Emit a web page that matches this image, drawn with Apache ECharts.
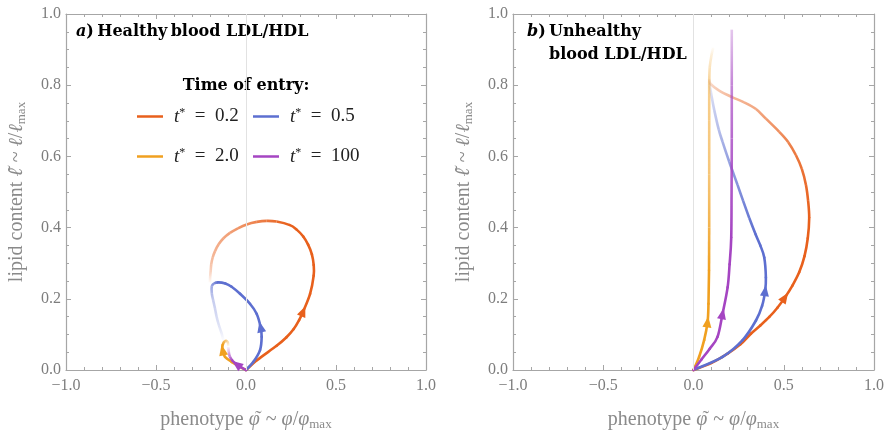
<!DOCTYPE html>
<html><head><meta charset="utf-8">
<script src="https://cdn.jsdelivr.net/npm/echarts@6/dist/echarts.min.js"></script>
<style>html,body{margin:0;padding:0;background:#fff}#c{width:889px;height:436px}</style>
</head><body><div id="c"></div>
<script>
// ---- tick labels ----
const xTickValues = [-1, -0.5, 0, 0.5, 1];
const xTickLabels = ['\u22121.0', '\u22120.5', '0.0', '0.5', '1.0'];
const yTickValues = [0, 0.2, 0.4, 0.6, 0.8, 1];
const yTickLabels = ['0.0', '0.2', '0.4', '0.6', '0.8', '1.0'];

// ---- legend ----
const seriesKeys = ['t02', 't05', 't20', 't100'];
const legendValues = ['0.2', '0.5', '2.0', '100'];

// ---- panel a) healthy: [phenotype, lipid] ----
const healthyT02 = [[0,0],[0.062,0.028],[0.17,0.068],[0.225,0.092],[0.265,0.115],[0.295,0.14],[0.318,0.165],[0.356,0.214],[0.376,0.265],[0.376,0.295],[0.366,0.325],[0.345,0.352],[0.318,0.375],[0.28,0.395],[0.244,0.407],[0.17,0.417],[0.115,0.419],[0.06,0.416],[0.004,0.409],[-0.045,0.398],[-0.089,0.385],[-0.125,0.37],[-0.152,0.353],[-0.172,0.334],[-0.185,0.316],[-0.193,0.297],[-0.196,0.279],[-0.199,0.262],[-0.2,0.246]];
const healthyT05 = [[0,0],[0.041,0.023],[0.078,0.056],[0.087,0.093],[0.081,0.121],[0.059,0.158],[0.022,0.186],[-0.033,0.214],[-0.08,0.234],[-0.115,0.243],[-0.154,0.246],[-0.178,0.243],[-0.19,0.235],[-0.19,0.215],[-0.182,0.195],[-0.172,0.172],[-0.163,0.149],[-0.15,0.125],[-0.135,0.102],[-0.126,0.084]];
const healthyT20 = [[0,0],[-0.033,0.009],[-0.08,0.023],[-0.117,0.037],[-0.13,0.056],[-0.13,0.07],[-0.117,0.081],[-0.102,0.079],[-0.098,0.067]];
const healthyT100 = [[0,0],[-0.025,0.007],[-0.052,0.016],[-0.075,0.026],[-0.09,0.038],[-0.096,0.052],[-0.098,0.065]];

// ---- panel b) unhealthy ----
const unhealthyT02 = [[0,0],[0.1,0.02],[0.189,0.046],[0.26,0.072],[0.318,0.102],[0.37,0.125],[0.42,0.149],[0.465,0.175],[0.507,0.204],[0.548,0.237],[0.586,0.275],[0.615,0.32],[0.633,0.37],[0.641,0.427],[0.635,0.475],[0.623,0.52],[0.6,0.565],[0.567,0.604],[0.525,0.64],[0.475,0.669],[0.401,0.706],[0.346,0.733],[0.28,0.752],[0.216,0.766],[0.142,0.785],[0.096,0.803],[0.087,0.817]];
const unhealthyT05 = [[0,0],[0.161,0.037],[0.272,0.084],[0.346,0.139],[0.38,0.18],[0.397,0.223],[0.401,0.26],[0.392,0.316],[0.37,0.35],[0.345,0.38],[0.309,0.427],[0.275,0.475],[0.244,0.52],[0.198,0.585],[0.161,0.641],[0.14,0.675],[0.115,0.73],[0.1,0.77],[0.091,0.798],[0.087,0.817]];
const unhealthyT20 = [[0,0],[0.031,0.037],[0.059,0.084],[0.078,0.135],[0.083,0.186],[0.086,0.279],[0.087,0.4],[0.087,0.55],[0.087,0.7],[0.087,0.8],[0.09,0.85],[0.1,0.885],[0.109,0.905]];
const unhealthyT100 = [[0,0],[0.045,0.03],[0.09,0.06],[0.133,0.093],[0.161,0.158],[0.189,0.232],[0.2,0.297],[0.209,0.371],[0.211,0.5],[0.212,0.65],[0.212,0.8],[0.212,0.956]];

// ---- styles ----
const colors = {t02:'#e8601c', t05:'#5d6fd0', t20:'#f0a020', t100:'#a545c2'};
const frameColor = '#a6a6a6';
const LW = 2.6;
// arrow: index of point carrying arrowhead; fade: [pointIndex, opacity] stops
const panels = [
  {curves:[
    {key:'t02', data:healthyT02, arrow:6, fade:[[14,1],[16,0.85],[20,0.6],[24,0.45],[26,0.3],[28,0.03]]},
    {key:'t05', data:healthyT05, arrow:4, fade:[[10,1],[12,0.6],[14,0.35],[17,0.2],[19,0.02]]},
    {key:'t20', data:healthyT20, arrow:4, fade:[[5,1],[6,0.7],[8,0.05]]},
    {key:'t100', data:healthyT100, arrow:2, fade:[[3,1],[4,0.7],[6,0.05]]}
  ]},
  {curves:[
    {key:'t02', data:unhealthyT02, arrow:8, fade:[[13,1],[17,0.85],[19,0.7],[21,0.55],[23,0.45],[25,0.25],[26,0.05]]},
    {key:'t05', data:unhealthyT05, arrow:5, fade:[[9,1],[12,0.75],[14,0.55],[16,0.35],[19,0.05]]},
    {key:'t20', data:unhealthyT20, arrow:3, fade:[[5,1],[7,0.6],[9,0.5],[10,0.3],[12,0.03]]},
    {key:'t100', data:unhealthyT100, arrow:4, fade:[[7,1],[9,0.8],[10,0.65],[11,0.3]]}
  ]}
];

const serif = 'Liberation Serif';
const boldSerif = 'DejaVu Serif';
const tickColor = '#7d7d7d';
const nameColor = '#8a8a8a';

function lookup(vals, labs){ return v => { const i = vals.findIndex(t => Math.abs(t - v) < 1e-9); return i >= 0 ? labs[i] : ''; }; }
function hexA(hex, a){ const n = parseInt(hex.slice(1), 16); return 'rgba(' + ((n>>16)&255) + ',' + ((n>>8)&255) + ',' + (n&255) + ',' + a.toFixed(3) + ')'; }

const nameRich = {
  it:{fontFamily:serif, fontStyle:'italic', fontSize:20, color:nameColor, lineHeight:22},
  n:{fontFamily:serif, fontSize:20, color:nameColor, lineHeight:22},
  tld:{fontFamily:serif, fontSize:20, color:nameColor, lineHeight:22, width:1, align:'right'},
  sub:{fontFamily:serif, fontSize:13, color:nameColor, lineHeight:9, verticalAlign:'bottom'}
};
const xName = '{n|phenotype }{it|\u03C6}{tld|\u02DC\u2009}{n| ~ }{it|\u03C6}{n|/}{it|\u03C6}{sub|max}';
const yName = '{n|lipid content }{it|\u2113}{tld|\u02DC\u200A}{n| ~ }{it|\u2113}{n|/}{it|\u2113}{sub|max}';

const grids = [
  {left:66, top:14, width:360, height:359},
  {left:513, top:14, width:361, height:359}
];
const xAxes = [], yAxes = [];
grids.forEach((g, gi) => {
  ['bottom','top'].forEach(pos => {
    const lab = pos === 'bottom';
    xAxes.push({type:'value', gridIndex:gi, position:pos, min:-1, max:1, interval:0.5,
      axisLine:{show:true, onZero:false, lineStyle:{color:frameColor, width:1.2}},
      axisTick:{show:true, inside:true, length:5, lineStyle:{color:frameColor, width:1}},
      minorTick:{show:true, splitNumber:5, length:3, lineStyle:{color:frameColor, width:1}},
      splitLine:{show:false},
      axisLabel:{show:lab, margin:8, formatter:lookup(xTickValues, xTickLabels), fontFamily:serif, fontSize:16, color:tickColor},
      name: lab ? xName : '', nameLocation:'middle', nameGap:39,
      nameTextStyle:{rich:nameRich}});
  });
  ['left','right'].forEach(pos => {
    const lab = pos === 'left';
    yAxes.push({type:'value', gridIndex:gi, position:pos, min:0, max:1, interval:0.2,
      axisLine:{show:true, onZero:false, lineStyle:{color:frameColor, width:1.2}},
      axisTick:{show:true, inside:true, length:5, lineStyle:{color:frameColor, width:1}},
      minorTick:{show:true, splitNumber:4, length:3, lineStyle:{color:frameColor, width:1}},
      splitLine:{show:false},
      axisLabel:{show:lab, margin:5, formatter:lookup(yTickValues, yTickLabels), fontFamily:serif, fontSize:16, color:tickColor},
      name: lab ? yName : '', nameLocation:'middle', nameGap:38, nameRotate:90,
      nameTextStyle:{rich:nameRich}});
  });
});

const chart = echarts.init(document.getElementById('c'), null, {renderer:'canvas'});
chart.setOption({animation:false, grid:grids, xAxis:xAxes, yAxis:yAxes, series:[]});

function opacityAt(fade, j){
  if (j <= fade[0][0]) return fade[0][1];
  for (let s = 1; s < fade.length; s++) {
    const [i0, o0] = fade[s-1], [i1, o1] = fade[s];
    if (j <= i1) return o0 + (o1 - o0) * (j - i0) / (i1 - i0);
  }
  return fade[fade.length-1][1];
}

const series = [];
panels.forEach((p, pi) => {
  // light vertical guide at phenotype = 0
  series.push({type:'line', xAxisIndex:2*pi, yAxisIndex:2*pi, data:[], silent:true, z:1,
    markLine:{silent:true, symbol:['none','none'], label:{show:false}, animation:false,
      lineStyle:{color:'#e2e2e2', width:1, type:'solid'}, data:[{xAxis:0}]}});
  p.curves.forEach(c => {
    const col = colors[c.key];
    const n = c.data.length;
    // smooth curve (Catmull-Rom through the data points), opacity fading along the trajectory
    series.push({type:'custom', name:c.key, xAxisIndex:2*pi, yAxisIndex:2*pi, coordinateSystem:'cartesian2d',
      data:c.data, encode:{x:0, y:1}, z:3, silent:true, itemStyle:{color:col},
      renderItem:(params, api) => {
        const i = params.dataIndex;
        if (i >= n-1) return null;
        const P = j => api.coord(c.data[Math.max(0, Math.min(n-1, j))]);
        const p0 = P(i-1), p1 = P(i), p2 = P(i+1), p3 = P(i+2);
        const oa = opacityAt(c.fade, i), ob = opacityAt(c.fade, i+1);
        const solid = oa > 0.99 && ob > 0.99;
        const stroke = solid ? col : new echarts.graphic.LinearGradient(p1[0], p1[1], p2[0], p2[1],
          [{offset:0, color:hexA(col, oa)}, {offset:1, color:hexA(col, ob)}], true);
        return {type:'bezierCurve', shape:{x1:p1[0], y1:p1[1], x2:p2[0], y2:p2[1],
            cpx1:p1[0] + (p2[0]-p0[0])/6, cpy1:p1[1] + (p2[1]-p0[1])/6,
            cpx2:p2[0] - (p3[0]-p1[0])/6, cpy2:p2[1] - (p3[1]-p1[1])/6},
          style:{stroke:stroke, fill:null, lineWidth:LW, lineCap: solid ? 'round' : 'butt'}};
      }});
    // arrowhead along the local direction
    const a = c.arrow;
    const P0 = chart.convertToPixel({gridIndex:pi}, c.data[a-1]);
    const P1 = chart.convertToPixel({gridIndex:pi}, c.data[a+1]);
    const ang = Math.atan2(-(P1[1]-P0[1]), P1[0]-P0[0]) * 180 / Math.PI - 90;
    series.push({type:'scatter', name:c.key, xAxisIndex:2*pi, yAxisIndex:2*pi, data:[c.data[a]],
      symbol:'triangle', symbolSize:[9, 11], symbolRotate:ang, z:4, silent:true,
      itemStyle:{color:col, opacity:1}});
  });
});

const legRich = {
  i:{fontFamily:serif, fontStyle:'italic', fontSize:19, color:'#222'},
  s:{fontFamily:serif, fontSize:12, color:'#222', verticalAlign:'top', lineHeight:14},
  n:{fontFamily:serif, fontSize:19, color:'#222'}
};
const legPos = [[137,107],[253,107],[137,147],[253,147]];
const legends = seriesKeys.map((k, i) => ({
  left:legPos[i][0], top:legPos[i][1], data:[{name:k, itemStyle:{color:colors[k]}}], icon:'rect', itemWidth:26, itemHeight:2.5,
  selectedMode:false, padding:0,
  textStyle:{padding:[0,0,0,6], rich:legRich},
  formatter: () => '{i|t}{s|*}{n|\u2002=\u2002' + legendValues[i] + '}'
}));

const tRich = {
  ai:{fontFamily:boldSerif, fontWeight:'bold', fontStyle:'italic', fontSize:16, color:'#000'},
  b:{fontFamily:boldSerif, fontWeight:'bold', fontSize:16, color:'#000'},
  g:{fontFamily:boldSerif, fontWeight:'bold', fontSize:16, color:'#6aac46'},
  r:{fontFamily:boldSerif, fontWeight:'bold', fontSize:16, color:'#ff0000'}
};
const graphic = [
  {type:'text', x:76, y:32, style:{text:'{ai|a}{b|)} {g|Healthy} {b|blood LDL/HDL}', rich:tRich, verticalAlign:'middle'}},
  {type:'text', x:527, y:32, style:{text:'{ai|b}{b|)}{r|\u2009Unhealthy}', rich:tRich, verticalAlign:'middle'}},
  {type:'text', x:549, y:55, style:{text:'{b|blood LDL/HDL}', rich:tRich, verticalAlign:'middle'}},
  {type:'text', x:246, y:86, style:{text:'{b|Time of entry:}', rich:tRich, align:'center', verticalAlign:'middle'}}
];

chart.setOption({series:series, legend:legends, graphic:graphic});
</script></body></html>
